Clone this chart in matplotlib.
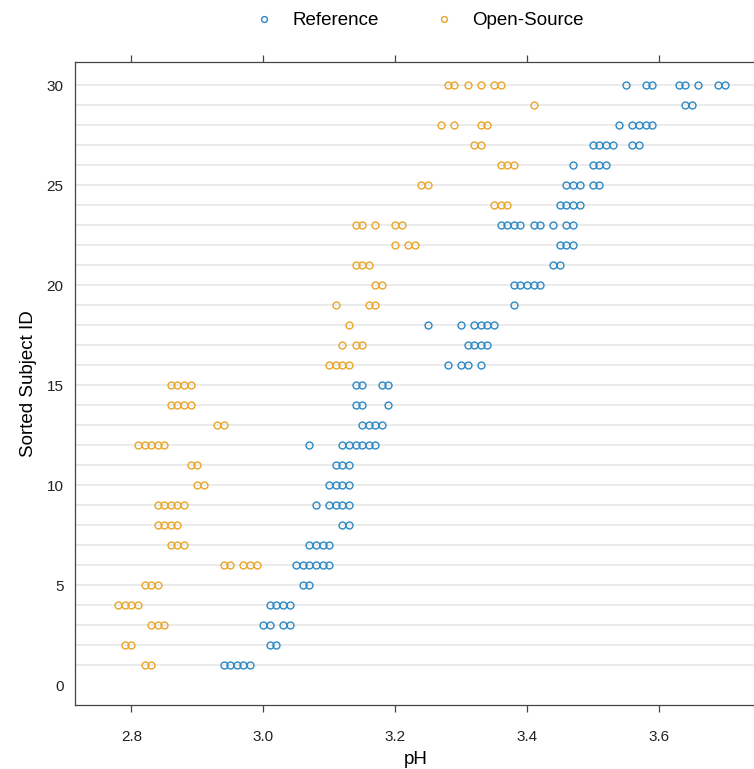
import matplotlib
matplotlib.use("Agg")
import matplotlib.pyplot as plt
from matplotlib.lines import Line2D

plt.rcParams["font.family"] = ["Liberation Sans", "DejaVu Sans"]

subject_ids = list(range(1, 31))

reference_ph = [
    [2.94, 2.95, 2.96, 2.97, 2.98],
    [3.01, 3.02],
    [3.00, 3.01, 3.03, 3.04],
    [3.01, 3.02, 3.03, 3.04],
    [3.06, 3.07],
    [3.05, 3.06, 3.07, 3.08, 3.09, 3.10],
    [3.07, 3.08, 3.09, 3.10],
    [3.12, 3.13],
    [3.08, 3.10, 3.11, 3.12, 3.13],
    [3.10, 3.11, 3.12, 3.13],
    [3.11, 3.12, 3.13],
    [3.07, 3.12, 3.13, 3.14, 3.15, 3.16, 3.17],
    [3.15, 3.16, 3.17, 3.18],
    [3.14, 3.15, 3.19],
    [3.14, 3.15, 3.18, 3.19],
    [3.28, 3.30, 3.31, 3.33],
    [3.31, 3.32, 3.33, 3.34],
    [3.25, 3.30, 3.32, 3.33, 3.34, 3.35],
    [3.38],
    [3.38, 3.39, 3.40, 3.41, 3.42],
    [3.44, 3.45],
    [3.45, 3.46, 3.47],
    [3.36, 3.37, 3.38, 3.39, 3.41, 3.42, 3.44, 3.46, 3.47],
    [3.45, 3.46, 3.47, 3.48],
    [3.46, 3.47, 3.48, 3.50, 3.51],
    [3.47, 3.50, 3.51, 3.52],
    [3.50, 3.51, 3.52, 3.53, 3.56, 3.57],
    [3.54, 3.56, 3.57, 3.58, 3.59],
    [3.64, 3.65],
    [3.55, 3.58, 3.59, 3.63, 3.64, 3.66, 3.69, 3.70],
]

open_source_ph = [
    [2.82, 2.83],
    [2.79, 2.80],
    [2.83, 2.84, 2.85],
    [2.78, 2.79, 2.80, 2.81],
    [2.82, 2.83, 2.84],
    [2.94, 2.95, 2.97, 2.98, 2.99],
    [2.86, 2.87, 2.88],
    [2.84, 2.85, 2.86, 2.87],
    [2.84, 2.85, 2.86, 2.87, 2.88],
    [2.90, 2.91],
    [2.89, 2.90],
    [2.81, 2.82, 2.83, 2.84, 2.85],
    [2.93, 2.94],
    [2.86, 2.87, 2.88, 2.89],
    [2.86, 2.87, 2.88, 2.89],
    [3.10, 3.11, 3.12, 3.13],
    [3.12, 3.14, 3.15],
    [3.13],
    [3.11, 3.16, 3.17],
    [3.17, 3.18],
    [3.14, 3.15, 3.16],
    [3.20, 3.22, 3.23],
    [3.14, 3.15, 3.17, 3.20, 3.21],
    [3.35, 3.36, 3.37],
    [3.24, 3.25],
    [3.36, 3.37, 3.38],
    [3.32, 3.33],
    [3.27, 3.29, 3.33, 3.34],
    [3.41],
    [3.28, 3.29, 3.31, 3.33, 3.35, 3.36],
]

series_names = ["Reference", "Open-Source"]
colors = ["#2C89C5", "#E9A628"]

fig = plt.figure(figsize=(7.54, 7.69), dpi=100)
ax = fig.add_axes([0.099, 0.083, 0.905, 0.836])

for sid in subject_ids:
    ax.axhline(sid, color="#e8e8e8", lw=1.2, zorder=0)

for values, color in zip([reference_ph, open_source_ph], colors):
    for sid, vals in zip(subject_ids, values):
        ax.plot(vals, [sid] * len(vals), ls="none", marker="o", ms=5.0,
                mfc="none", mec=color, mew=1.0, zorder=3)

ax.set_xlim(2.714, 3.749)
ax.set_ylim(-1.0, 31.15)
ax.set_xticks([2.8, 3.0, 3.2, 3.4, 3.6])
ax.set_xticklabels(["2.8", "3.0", "3.2", "3.4", "3.6"])
ax.set_yticks([0, 5, 10, 15, 20, 25, 30])

ax.tick_params(axis="x", direction="out", length=5, width=0.9, color="#444444",
               labelsize=11, labelcolor="#222222", pad=13, top=True)
ax.tick_params(axis="y", length=0, labelsize=11, labelcolor="#222222", pad=8)

for side in ["left", "bottom", "top"]:
    ax.spines[side].set_color("#444444")
    ax.spines[side].set_linewidth(0.9)
ax.spines["right"].set_visible(False)

ax.set_xlabel("pH", fontsize=13.5, labelpad=5)
ax.set_ylabel("Sorted Subject ID", fontsize=13.5, labelpad=7)

handles = [Line2D([], [], ls="none", marker="o", ms=4.2, mfc="none", mec=c, mew=1.0)
           for c in colors]
fig.legend(handles, series_names, loc="center", bbox_to_anchor=(0.556, 0.973), ncol=2,
           frameon=False, fontsize=13.5, handletextpad=1.0, columnspacing=3.0,
           handlelength=1.0)

fig.savefig("out.png", dpi=100)
